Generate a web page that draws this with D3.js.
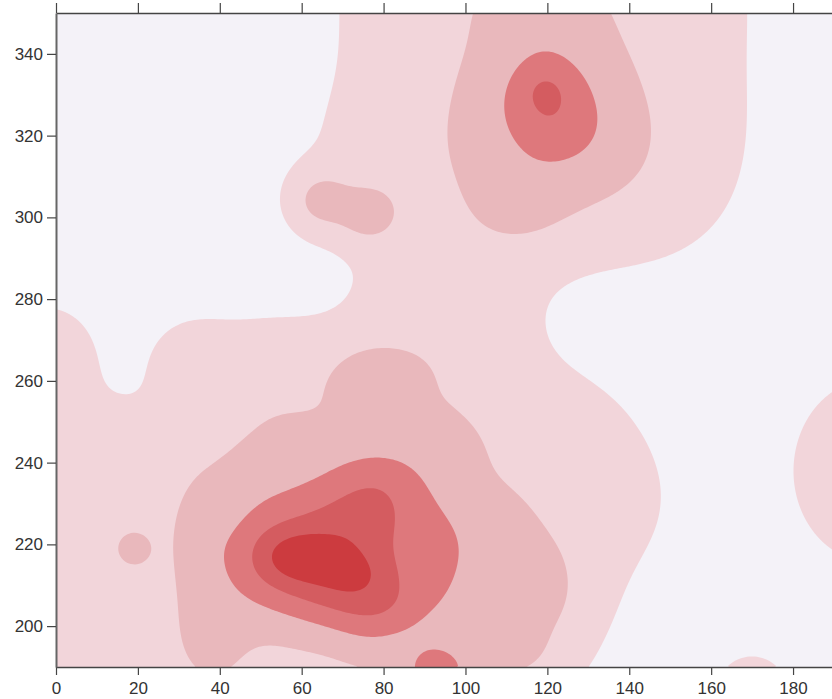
<!DOCTYPE html>
<html>
<head>
<meta charset="utf-8">
<script src="https://cdn.jsdelivr.net/npm/d3@7"></script>
<style>
  body { margin: 0; background: #fff; }
  svg { display: block; font-family: "Liberation Sans", Arial, sans-serif; }
</style>
</head>
<body>
<div id="chart"></div>
<script>
// Density contour chart

// Contour levels and their fills
var levels = [0.3, 1, 2, 3, 4];
var levelColors = ["#f2d5da", "#e9b8bc", "#de787c", "#d45c60", "#cc3b3f"];

// Tick labels
var xTicks = [0, 20, 40, 60, 80, 100, 120, 140, 160, 180];
var yTicks = [200, 220, 240, 260, 280, 300, 320, 340];

// Weighted samples: [x, y, weight, spreadX, spreadY, spreadY below (optional)]
var backgroundSpots = [
  [-4,164,.24,14,14],[18,164,.24,14,14],[40,164,.24,14,14],[62,164,.24,14,14],[84,164,.24,14,14],[98,164,.24,14,14],
  [-4,186,.24,14,14],[18,186,.24,14,14],[40,186,.24,14,14],[62,186,.24,14,14],[84,186,.24,14,14],[104,186,.24,14,14],
  [-4,208,.24,14,14],[18,208,.24,14,14],[40,208,.24,14,14],[62,208,.24,14,14],[84,208,.24,14,14],[104,208,.24,14,14],[122,208,.24,14,14],
  [-4,230,.24,14,14],[16,232,.24,14,14],[40,230,.24,14,14],[62,230,.24,14,14],[84,230,.24,14,14],[106,230,.24,14,14],[124,230,.24,14,14],[138,230,.24,14,14],
  [-6,246,.24,14,14],[16,248,.1,8,8],[44,248,.24,14,14],[62,250,.24,14,14],[84,250,.24,14,14],[106,250,.24,14,14],[128,250,.24,14,14],
  [-2,268,.45,10,10],[32,266,.3,7,7],[44,260,.24,14,14],[58,258,.24,14,14],[86,262,.24,14,14],[97,262,.24,14,14],
  [94,283,.24,14,14],[99,282,.24,14,14],
  [75,312,.24,14,14],[90,306,.24,14,14],[104,304,.24,14,14],[124,304,.24,14,14],[142,304,.24,14,14],[152,308,.24,14,14],
  [84,326,.24,14,14],[100,326,.24,14,14],[118,326,.24,14,14],[138,326,.24,14,14],[156,326,.24,14,14],
  [82,348,.24,14,14],[100,348,.24,14,14],[118,348,.24,14,14],[138,348,.24,14,14],[156,348,.24,14,14],
  [82,368,.24,14,14],[100,368,.24,14,14],[118,368,.24,14,14],[138,368,.24,14,14],[156,368,.24,14,14]
];

var upperSpots = [
  [121,325,1.0,13.5,16],
  [119.5,328.5,1.2,8,9],
  [119.5,331,0.4,3,3],
  [130,320,0.3,8,8],
  [114,303,0.35,8,8],
  [118,352,0.45,10,8],
  [64.5,304,1.0,5.5,5.5],
  [76,300.5,0.85,5,5]
];

var lowerSpots = [
  [66,214.5,3.0,14,12,10],
  [76,226,0.6,22,14,12],
  [79,233,1.2,9,8],
  [59,217,1.0,6,4],
  [73,213,0.5,6,4],
  [50,218,0.7,7,8],
  [94,216,0.85,6,10],
  [80,204,1.2,9,6],
  [77,194,0.25,6,5],
  [93,189,1.8,6,5],
  [104,203,0.2,6,6],
  [38,198,0.6,7,10],
  [35,222,0.6,5,10],
  [19,219,0.9,3,3],
  [46,236,0.18,8,6],
  [77,261,0.75,7,5.5],
  [95,244,0.2,8,6],
  [107,220,0.35,7,9],
  [121,206,0.55,8,11],
  [112,192,0.5,8,6]
];

var edgeSpots = [
  [199,238,1.3,11,13],
  [170,184,1.3,5,5]
];

var allSpots = backgroundSpots.concat(upperSpots, lowerSpots, edgeSpots);

// SVG Dimensions
var svgWidth = 832;
var svgHeight = 699;
var margin = { top: 13, right: 0, bottom: 32, left: 56 };
var plotWidth = 778;
var plotHeight = svgHeight - margin.top - margin.bottom;

var x = d3.scaleLinear().domain([0, 190]).range([0, plotWidth]);
var y = d3.scaleLinear().domain([190, 350]).range([plotHeight, 0]);

var svg = d3.select("#chart")
  .append("svg")
  .attr("width", svgWidth)
  .attr("height", svgHeight);

svg.append("defs").append("clipPath")
  .attr("id", "plot-clip")
  .append("rect")
  .attr("width", plotWidth)
  .attr("height", plotHeight);

var chartGroup = svg.append("g")
  .attr("transform", `translate(${margin.left}, ${margin.top})`);

chartGroup.append("rect")
  .attr("width", plotWidth)
  .attr("height", plotHeight)
  .attr("fill", "#f4f2f8");

// density surface sampled on a grid
function density(px, py) {
  var v = 0;
  allSpots.forEach(function(s) {
    var sy = (py < s[1] && s.length > 5) ? s[5] : s[4];
    var dx = (px - s[0]) / s[3], dy = (py - s[1]) / sy;
    v += s[2] * Math.exp(-0.5 * (dx * dx + dy * dy));
  });
  return v;
}

var step = 2;
var n = Math.ceil(plotWidth / step);
var m = Math.ceil(plotHeight / step);
var values = new Float64Array(n * m);
for (var j = 0; j < m; j++) {
  for (var i = 0; i < n; i++) {
    values[j * n + i] = density(x.invert((i + 0.5) * step), y.invert((j + 0.5) * step));
  }
}

var contours = d3.contours().size([n, m]).thresholds(levels)(values);

chartGroup.append("g")
  .attr("clip-path", "url(#plot-clip)")
  .selectAll("path")
  .data(contours)
  .enter()
  .append("path")
  .attr("d", d3.geoPath(d3.geoIdentity().scale(step)))
  .attr("fill", (d, i) => levelColors[i]);

// Axes
var bottomAxis = chartGroup.append("g")
  .attr("transform", `translate(0, ${plotHeight})`)
  .call(d3.axisBottom(x).tickValues(xTicks).tickSize(8).tickSizeOuter(0).tickPadding(7));

var topAxis = chartGroup.append("g")
  .call(d3.axisTop(x).tickValues(xTicks).tickFormat("").tickSize(10).tickSizeOuter(0));

var leftAxis = chartGroup.append("g")
  .call(d3.axisLeft(y).tickValues(yTicks).tickSize(9).tickSizeOuter(0).tickPadding(4));

[bottomAxis, topAxis, leftAxis].forEach(function(a) {
  a.select(".domain").attr("stroke", "#444").attr("stroke-width", 1.5);
  a.selectAll(".tick line").attr("stroke", "#444").attr("stroke-width", 1.2);
  a.selectAll(".tick text").attr("fill", "#333").style("font-size", "17px");
});
leftAxis.select(".domain").attr("stroke", "#666").attr("stroke-width", 2);
</script>
</body>
</html>
